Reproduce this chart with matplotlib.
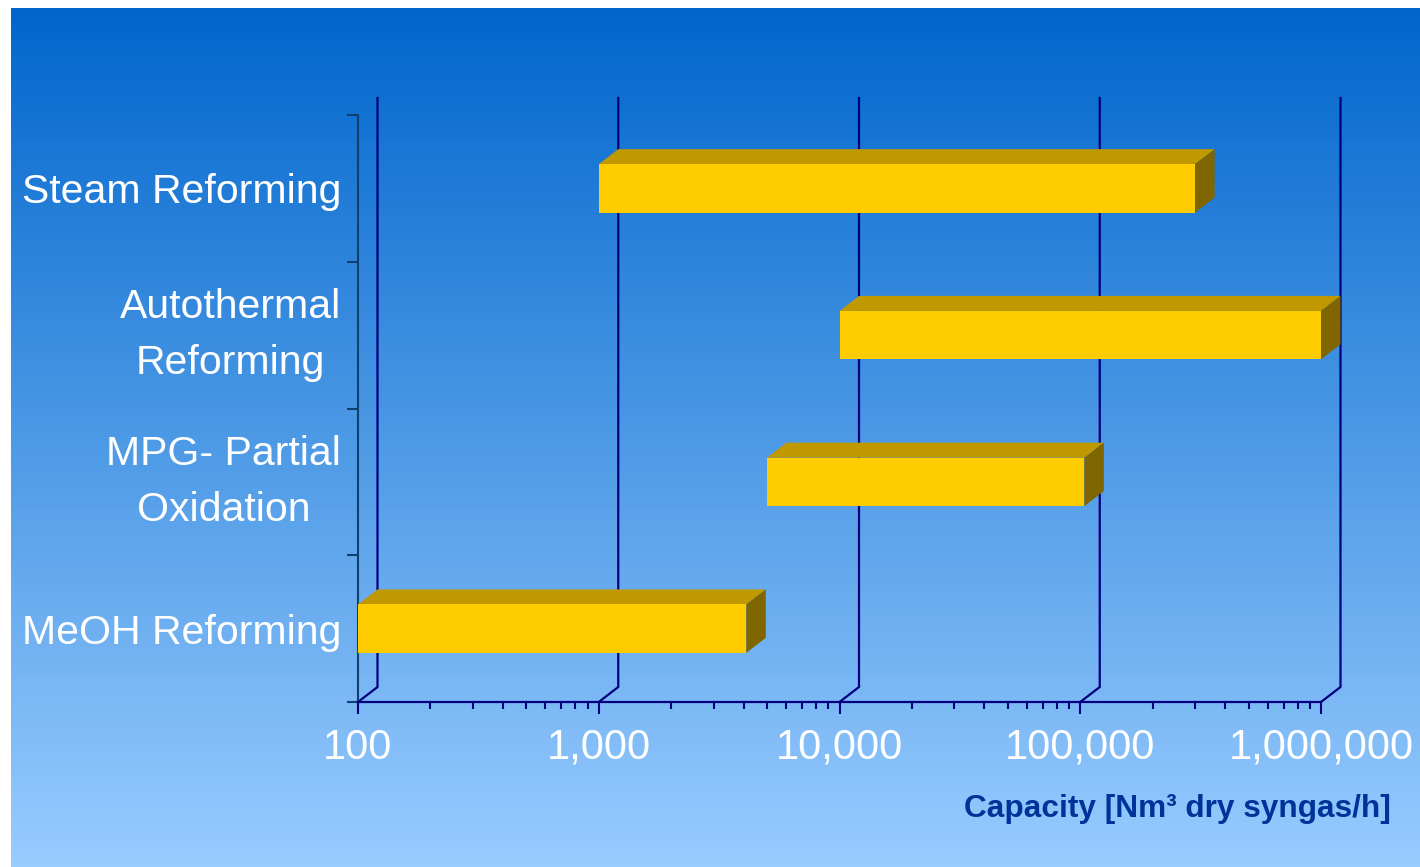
import matplotlib
matplotlib.use('Agg')
import matplotlib.pyplot as plt
import numpy as np
from matplotlib.colors import LinearSegmentedColormap
from matplotlib.patches import Polygon, Rectangle
from matplotlib.ticker import FixedLocator, LogLocator, NullFormatter

plt.rcParams['font.family'] = ['Liberation Sans']

# capacity ranges per process, bottom row first
processes = ['MeOH Reforming', 'MPG- Partial\nOxidation',
             'Autothermal\nReforming', 'Steam Reforming']
cap_min = [100, 5000, 10000, 1000]
cap_max = [4100, 104000, 1000000, 300000]

decades = [100, 1000, 10000, 100000, 1000000]
decade_labels = ['100', '1,000', '10,000', '100,000', '1,000,000']

W, H = 1420, 867
fig = plt.figure(figsize=(W / 100, H / 100), dpi=100)

# slide-style blue fade behind everything
bg = fig.add_axes([11 / W, 0, 1 - 11 / W, (H - 8) / H])
fade = LinearSegmentedColormap.from_list('fade', ['#0066CC', '#99CCFF'])
bg.imshow(np.linspace(0, 1, 256)[:, None], aspect='auto', cmap=fade,
          extent=[0, 1, 0, 1])
bg.axis('off')

ax = fig.add_axes([358 / W, (H - 702) / H, (1321 - 358) / W, (702 - 115) / H])
ax.set_facecolor('none')
ax.set_xscale('log')
ax.set_xlim(100, 1e6)
ax.set_ylim(-0.5, 3.5)

# depth of the pseudo-3D wall, in pixels
DX, DY = 19.5, 15


def shift(x, y, extra=0):
    px = ax.transData.transform((x, y)) + (DX, DY + extra)
    return tuple(ax.transData.inverted().transform(px))


grid_col = '#000080'
for v in decades:
    bx, by = shift(v, -0.5)
    tx, ty = shift(v, 3.5, extra=2)
    ax.plot([v, bx, tx], [-0.5, by, ty], color=grid_col, lw=1.6,
            clip_on=False, zorder=2, solid_joinstyle='miter')

bar_h = 0.33
for i, (lo, hi) in enumerate(zip(cap_min, cap_max)):
    y0, y1 = i - bar_h / 2, i + bar_h / 2
    top = [(lo, y1), (hi, y1), shift(hi, y1), shift(lo, y1)]
    side = [(hi, y0), (hi, y1), shift(hi, y1), shift(hi, y0)]
    ax.add_patch(Polygon(top, closed=True, facecolor='#C09900',
                         edgecolor='none', zorder=3, clip_on=False))
    ax.add_patch(Polygon(side, closed=True, facecolor='#806600',
                         edgecolor='none', zorder=3, clip_on=False))
    ax.add_patch(Rectangle((lo, y0), hi - lo, bar_h, facecolor='#FFCC00',
                           edgecolor='none', zorder=4, clip_on=False))

ax.set_xticks(decades, decade_labels)
ax.xaxis.set_minor_locator(LogLocator(base=10, subs=np.arange(2, 10)))
ax.xaxis.set_minor_formatter(NullFormatter())
ax.tick_params(axis='x', which='major', direction='out', length=8.5,
               width=1.5, color=grid_col, labelcolor='white', labelsize=30,
               pad=10)
ax.tick_params(axis='x', which='minor', direction='out', length=5,
               width=1.5, color=grid_col)

ax.set_yticks(range(len(processes)), processes)
ax.yaxis.set_minor_locator(FixedLocator([-0.5, 0.5, 1.5, 2.5, 3.5]))
ax.tick_params(axis='y', which='major', length=0, pad=12,
               labelcolor='white', labelsize=29.5)
ax.tick_params(axis='y', which='minor', direction='out', length=8,
               width=1.5, color='#10406e')
for lbl in ax.get_yticklabels():
    lbl.set_multialignment('center')
    if '\n' in lbl.get_text():
        lbl.set_linespacing(1.6)
        lbl.set_verticalalignment('center')

for side_name in ('top', 'right'):
    ax.spines[side_name].set_visible(False)
ax.spines['bottom'].set_color(grid_col)
ax.spines['bottom'].set_linewidth(1.6)
ax.spines['left'].set_color('#10406e')
ax.spines['left'].set_linewidth(1.5)

fig.text(1391 / W, (H - 817) / H, 'Capacity [Nm³ dry syngas/h]',
         ha='right', va='baseline', fontsize=22.8, fontweight='bold',
         color='#003399')

fig.savefig('out.png', dpi=100)
